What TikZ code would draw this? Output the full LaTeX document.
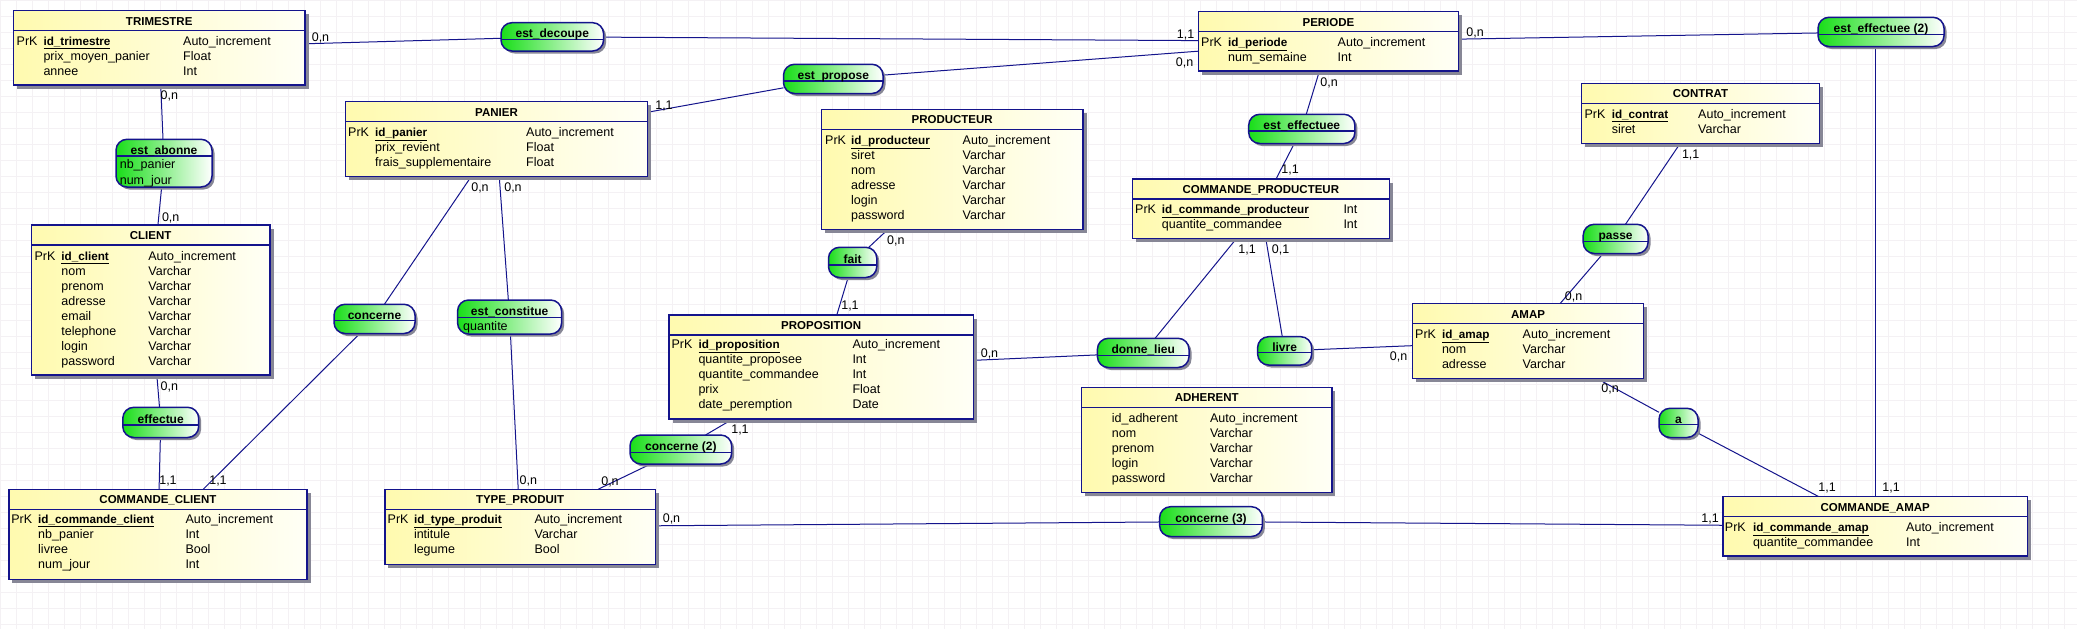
\documentclass[tikz,border=0pt]{standalone}
\usepackage{fontspec}
\setmainfont{Liberation Sans}
\usetikzlibrary{shadows,calc}
\pgfdeclarelayer{bg}
\pgfsetlayers{bg,main}
\definecolor{navy}{RGB}{20,20,140}
\definecolor{entyel}{RGB}{255,250,175}
\definecolor{entwhite}{RGB}{255,255,246}
\definecolor{agreen}{RGB}{25,222,25}
\definecolor{gridc}{RGB}{244,241,244}
\definecolor{shadowc}{RGB}{135,135,150}
\tikzset{
  entity/.style={draw=navy, line width=1.5pt, left color=entyel, right color=entwhite,
    inner sep=0pt, outer sep=0pt,
    drop shadow={shadow xshift=3.5pt, shadow yshift=-3.5pt, fill=shadowc, opacity=1}},
  assoc/.style={draw=navy, line width=1.5pt, rounded corners=11pt, left color=agreen, right color=white,
    inner sep=0pt, outer sep=0pt,
    drop shadow={shadow xshift=2.5pt, shadow yshift=-2.5pt, fill=shadowc, opacity=1}},
  boxline/.style={draw=navy, line width=1.2pt},
  conn/.style={draw=navy, line width=1pt},
  gridline/.style={draw=gridc, line width=0.7pt},
  etitle/.style={font=\fontsize{11.5}{13}\selectfont\bfseries, anchor=base, inner sep=0pt},
  atitle/.style={font=\fontsize{12}{14}\selectfont\bfseries, anchor=base, inner sep=0pt},
  attr/.style={font=\fontsize{12.5}{14}\selectfont, anchor=base west, inner sep=0pt},
  card/.style={font=\fontsize{12.5}{14}\selectfont, anchor=base, inner sep=0pt},
}
\newcommand\pkname[1]{{\fontsize{11.7}{14}\selectfont\bfseries\underline{#1}}}
% entity: name, L, T, R, B, title
\newcommand\ent[6]{%
  \pgfmathsetmacro\eW{#4-#2}\pgfmathsetmacro\eH{#5-#3}%
  \pgfmathsetmacro\eX{(#2+#4)/2}\pgfmathsetmacro\eY{(#3+#5)/2}%
  \node[entity, minimum width=\eW pt, minimum height=\eH pt] (#1) at (\eX,\eY) {};
  \draw[boxline] (#2,#3+20) -- (#4,#3+20);
  \node[etitle] (#1-title) at (\eX,#3+14.3) {#6};
}
% association: name, L, T, R, B, divider y, title y, title
\newcommand\asc[8]{%
  \pgfmathsetmacro\aW{#4-#2}\pgfmathsetmacro\aH{#5-#3}%
  \pgfmathsetmacro\aX{(#2+#4)/2}\pgfmathsetmacro\aY{(#3+#5)/2}%
  \node[assoc, minimum width=\aW pt, minimum height=\aH pt] (#1) at (\aX,\aY) {};
  \draw[boxline] (#2,#6) -- (#4,#6);
  \node[atitle] (#1-title) at (\aX,#7+4.3) {#8};
}
% key row: id, PrK x, name x, type x, y, name, type
\newcommand\pkrow[7]{%
  \node[attr] (#1-k) at (#2,#5+4.3) {PrK};
  \node[attr] (#1-n) at (#3,#5+4.3) {\pkname{#6}};
  \node[attr] (#1-t) at (#4,#5+4.3) {#7};
}
% plain row: id, name x, type x, y, name, type
\newcommand\arow[6]{%
  \node[attr] (#1-n) at (#2,#4+4.3) {#5};
  \node[attr] (#1-t) at (#3,#4+4.3) {#6};
}
\begin{document}
\begin{tikzpicture}[x=1pt, y=-1pt]
\useasboundingbox (0,0) rectangle (2077,629);

% ---------------- entities ----------------
\ent{tri}{13.4}{10.7}{305}{85}{TRIMESTRE}
\pkrow{tri1}{16.5}{43.3}{183}{41}{id\_trimestre}{Auto\_increment}
\arow{tri2}{43.3}{183}{56}{prix\_moyen\_panier}{Float}
\arow{tri3}{43.3}{183}{71}{annee}{Int}

\ent{per}{1198.6}{11.7}{1458.3}{71}{PERIODE}
\pkrow{per1}{1201}{1228}{1337.5}{42.3}{id\_periode}{Auto\_increment}
\arow{per2}{1228}{1337.5}{57.3}{num\_semaine}{Int}

\ent{pan}{345.7}{101.7}{647.3}{176.7}{PANIER}
\pkrow{pan1}{348}{375}{526}{131.7}{id\_panier}{Auto\_increment}
\arow{pan2}{375}{526}{146.7}{prix\_revient}{Float}
\arow{pan3}{375}{526}{161.7}{frais\_supplementaire}{Float}

\ent{prod}{821.4}{109.3}{1083}{229.3}{PRODUCTEUR}
\pkrow{prod1}{825}{851}{962.5}{140}{id\_producteur}{Auto\_increment}
\arow{prod2}{851}{962.5}{155}{siret}{Varchar}
\arow{prod3}{851}{962.5}{170}{nom}{Varchar}
\arow{prod4}{851}{962.5}{185}{adresse}{Varchar}
\arow{prod5}{851}{962.5}{200}{login}{Varchar}
\arow{prod6}{851}{962.5}{215}{password}{Varchar}

\ent{cprod}{1132.3}{179}{1389.3}{238.3}{COMMANDE\_PRODUCTEUR}
\pkrow{cprod1}{1135}{1161.7}{1343.3}{209}{id\_commande\_producteur}{Int}
\arow{cprod2}{1161.7}{1343.3}{224}{quantite\_commandee}{Int}

\ent{contrat}{1581.3}{83.3}{1819.7}{143.3}{CONTRAT}
\pkrow{con1}{1584.4}{1611.6}{1698}{114}{id\_contrat}{Auto\_increment}
\arow{con2}{1611.6}{1698}{129}{siret}{Varchar}

\ent{cli}{31.25}{225}{270}{375}{CLIENT}
\pkrow{cli1}{34.4}{61.2}{148.2}{255.7}{id\_client}{Auto\_increment}
\arow{cli2}{61.2}{148.2}{270.7}{nom}{Varchar}
\arow{cli3}{61.2}{148.2}{285.7}{prenom}{Varchar}
\arow{cli4}{61.2}{148.2}{300.7}{adresse}{Varchar}
\arow{cli5}{61.2}{148.2}{315.7}{email}{Varchar}
\arow{cli6}{61.2}{148.2}{330.7}{telephone}{Varchar}
\arow{cli7}{61.2}{148.2}{345.7}{login}{Varchar}
\arow{cli8}{61.2}{148.2}{360.7}{password}{Varchar}

\ent{prop}{669}{315}{973.3}{419}{PROPOSITION}
\pkrow{prop1}{671.3}{698.3}{852.3}{344.3}{id\_proposition}{Auto\_increment}
\arow{prop2}{698.3}{852.3}{359.3}{quantite\_proposee}{Int}
\arow{prop3}{698.3}{852.3}{374.3}{quantite\_commandee}{Int}
\arow{prop4}{698.3}{852.3}{389.3}{prix}{Float}
\arow{prop5}{698.3}{852.3}{404.3}{date\_peremption}{Date}

\ent{amap}{1412.6}{303.7}{1643.5}{378.3}{AMAP}
\pkrow{amap1}{1415}{1441.8}{1522.5}{334}{id\_amap}{Auto\_increment}
\arow{amap2}{1441.8}{1522.5}{349}{nom}{Varchar}
\arow{amap3}{1441.8}{1522.5}{364}{adresse}{Varchar}

\ent{adh}{1081.6}{387.3}{1331.8}{492.3}{ADHERENT}
\arow{adh1}{1111.7}{1209.8}{417.7}{id\_adherent}{Auto\_increment}
\arow{adh2}{1111.7}{1209.8}{432.7}{nom}{Varchar}
\arow{adh3}{1111.7}{1209.8}{447.7}{prenom}{Varchar}
\arow{adh4}{1111.7}{1209.8}{462.7}{login}{Varchar}
\arow{adh5}{1111.7}{1209.8}{477.7}{password}{Varchar}

\ent{ccli}{8.9}{489.3}{307}{579.3}{COMMANDE\_CLIENT}
\pkrow{ccli1}{11.2}{38}{185.3}{519.3}{id\_commande\_client}{Auto\_increment}
\arow{ccli2}{38}{185.3}{534.3}{nb\_panier}{Int}
\arow{ccli3}{38}{185.3}{549.3}{livree}{Bool}
\arow{ccli4}{38}{185.3}{564.3}{num\_jour}{Int}

\ent{tprod}{384.8}{489.3}{655.4}{564.3}{TYPE\_PRODUIT}
\pkrow{tp1}{387.5}{413.8}{534.4}{519.3}{id\_type\_produit}{Auto\_increment}
\arow{tp2}{413.8}{534.4}{534.3}{intitule}{Varchar}
\arow{tp3}{413.8}{534.4}{549.3}{legume}{Bool}

\ent{camap}{1723}{496.7}{2027.4}{556}{COMMANDE\_AMAP}
\pkrow{ca1}{1724.7}{1752.8}{1906}{526.7}{id\_commande\_amap}{Auto\_increment}
\arow{ca2}{1752.8}{1906}{541.7}{quantite\_commandee}{Int}

% ---------------- associations ----------------
\asc{decoupe}{501}{22.7}{603.6}{51}{39.3}{33}{est\_decoupe}
\asc{propose}{783.5}{64.3}{883}{93.5}{81}{75}{est\_propose}
\asc{abonne}{116}{139.3}{212}{187}{156}{150}{est\_abonne}
\node[attr] (abonne-a1) at (119.6,164.3+4.3) {nb\_panier};
\node[attr] (abonne-a2) at (119.6,180+4.3) {num\_jour};
\asc{effectuee}{1248.7}{114.3}{1354.9}{143.5}{131}{125}{est\_effectuee}
\asc{effectuee2}{1818}{17.3}{1944}{46.5}{34.3}{28.3}{est\_effectuee (2)}
\asc{fait}{828.5}{247.3}{876.8}{277.5}{265}{259}{fait}
\asc{concerne}{334}{304.3}{415}{333.5}{320.7}{315}{concerne}
\asc{constitue}{457.6}{300}{561.6}{334}{317.3}{310.7}{est\_constitue}
\node[attr] (constitue-a1) at (463,325.7+4.3) {quantite};
\asc{passe}{1583.2}{224.3}{1648}{253.5}{241.7}{235}{passe}
\asc{donne}{1097.4}{338.3}{1189}{367.5}{355.7}{349}{donne\_lieu}
\asc{livre}{1257.6}{336.7}{1311.7}{365}{352.7}{346.7}{livre}
\asc{effectue}{122.8}{407.3}{198.7}{437.5}{425}{419}{effectue}
\asc{aa}{1659}{408.3}{1698}{437.5}{424.3}{419.3}{a}
\asc{concerne2}{630}{435}{731.7}{464}{452.3}{445.7}{concerne (2)}
\asc{concerne3}{1159.6}{506.7}{1262.4}{536.5}{524.3}{517.7}{concerne (3)}

% ---------------- background, grid and connectors ----------------
\begin{pgfonlayer}{bg}
\fill[white] (0,0) rectangle (2077,629);
\foreach \gx in {0,16,...,2080} \draw[gridline] (\gx,0) -- (\gx,629);
\foreach \gy in {0,16,...,630} \draw[gridline] (0,\gy) -- (2077,\gy);
\draw[conn] (tri) -- (decoupe);
\draw[conn] (decoupe) -- (per);
\draw[conn] (propose) -- (per);
\draw[conn] (propose) -- (pan);
\draw[conn] (per) -- (effectuee2);
\draw[conn] (per) -- (effectuee);
\draw[conn] (effectuee) -- (cprod);
\draw[conn] (tri) -- (abonne);
\draw[conn] (abonne) -- (cli);
\draw[conn] (pan) -- (concerne);
\draw[conn] (pan) -- (constitue);
\draw[conn] (prod) -- (fait);
\draw[conn] (fait) -- (prop);
\draw[conn] (cprod) -- (donne);
\draw[conn] (cprod) -- (livre);
\draw[conn] (prop) -- (donne);
\draw[conn] (livre) -- (amap);
\draw[conn] (contrat) -- (passe);
\draw[conn] (passe) -- (amap);
\draw[conn] (amap) -- (aa);
\draw[conn] (aa) -- (camap);
\draw[conn] (effectuee2.south -| camap.north) -- (camap.north);
\draw[conn] (cli) -- (effectue);
\draw[conn] (effectue) -- (ccli);
\draw[conn] (concerne) -- (ccli);
\draw[conn] (constitue) -- (tprod);
\draw[conn] (prop) -- (concerne2);
\draw[conn] (concerne2) -- (tprod);
\draw[conn] (tprod) -- (concerne3);
\draw[conn] (concerne3) -- (camap);
\end{pgfonlayer}

% ---------------- cardinalities ----------------
\node[card] (c1) at (320.5,41.3) {0,n};
\node[card] (c2) at (1185.5,38.3) {1,1};
\node[card] (c3) at (1184.5,66.3) {0,n};
\node[card] (c4) at (664,109.3) {1,1};
\node[card] (c5) at (1475,36.6) {0,n};
\node[card] (c6) at (1329,86.6) {0,n};
\node[card] (c7) at (1290,173.6) {1,1};
\node[card] (c8) at (169.3,99.3) {0,n};
\node[card] (c9) at (170.7,221.6) {0,n};
\node[card] (c10) at (480,191.3) {0,n};
\node[card] (c11) at (513,191.3) {0,n};
\node[card] (c12) at (895.8,244.3) {0,n};
\node[card] (c13) at (850,309.3) {1,1};
\node[card] (c14) at (1247,253.3) {1,1};
\node[card] (c15) at (1280.5,253.3) {0,1};
\node[card] (c16) at (989.5,357.6) {0,n};
\node[card] (c17) at (1398.5,360.3) {0,n};
\node[card] (c18) at (1690.7,158.3) {1,1};
\node[card] (c19) at (1573.5,300) {0,n};
\node[card] (c20) at (1610,392.8) {0,n};
\node[card] (c21) at (1827,491.6) {1,1};
\node[card] (c22) at (1891,491.6) {1,1};
\node[card] (c23) at (169.3,390) {0,n};
\node[card] (c24) at (168,484.3) {1,1};
\node[card] (c25) at (218,484.3) {1,1};
\node[card] (c26) at (528.4,484.3) {0,n};
\node[card] (c27) at (740,433.6) {1,1};
\node[card] (c28) at (610,485.3) {0,n};
\node[card] (c29) at (671.5,522.6) {0,n};
\node[card] (c30) at (1710,522.6) {1,1};
\end{tikzpicture}
\end{document}
